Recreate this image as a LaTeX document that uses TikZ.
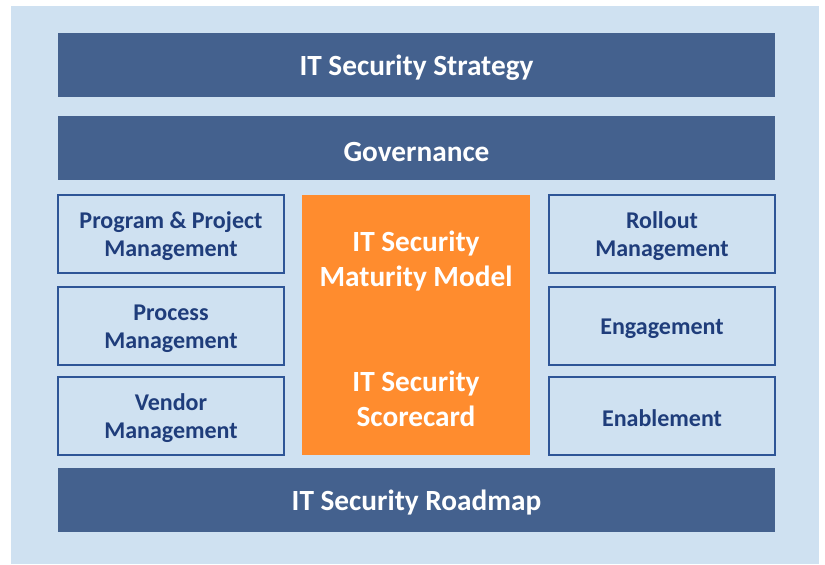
\documentclass[tikz,border=0pt]{standalone}
\usepackage{fontspec}
\setmainfont{Carlito}
\usetikzlibrary{positioning}
\definecolor{bgblue}{HTML}{CFE1F1}
\definecolor{barblue}{HTML}{44618E}
\definecolor{lineblue}{HTML}{2E5597}
\definecolor{textblue}{HTML}{1F3D7B}
\definecolor{orange}{HTML}{FF8C2E}
\newcommand{\topstrut}{\rule{0pt}{0.9em}}
\begin{document}
\begin{tikzpicture}[x=0.03cm, y=-0.03cm,
                        every node/.style={execute at begin node={\topstrut}},
                        bar/.style={fill=barblue, text=white, minimum width=21.51cm, minimum height=1.92cm,
                                    font=\bfseries\fontsize{25}{30}\selectfont},
                        area/.style={draw=lineblue, line width=1.2pt, text=textblue, align=center,
                                     minimum width=6.78cm, minimum height=2.34cm,
                                     font=\bfseries\fontsize{20.5}{24}\selectfont},
                        core/.style={text=white, align=center, font=\bfseries\fontsize{25}{30}\selectfont}]

            \useasboundingbox (0,0) rectangle (825,564);
            \fill[bgblue] (11,6) rectangle (819,564);

            % bars
            \node[bar] (strategy) at (416.5,65) {IT Security Strategy};
            \node[bar] (governance) at (416.5,148) {Governance};
            \node[bar] (roadmap) at (416.5,500) {IT Security Roadmap};

            % left column
            \node[area] (program) at (171,234) {\topstrut Program \& Project\\Management};
            \node[area] (process) at (171,326) {\topstrut Process\\Management};
            \node[area] (vendor) at (171,416) {\topstrut Vendor\\Management};

            % right column
            \node[area] (rollout) at (662,234) {\topstrut Rollout\\Management};
            \node[area] (engagement) at (662,326) {Engagement};
            \node[area] (enablement) at (662,416) {Enablement};

            % center
            \node[fill=orange, minimum width=6.84cm, minimum height=7.8cm] (center) at (416,325) {};
            \node[core] (maturity) at (416,258) {\topstrut IT Security\\Maturity Model};
            \node[core] (scorecard) at (416,396) {\topstrut IT Security\\Scorecard};

        \end{tikzpicture}
\end{document}
